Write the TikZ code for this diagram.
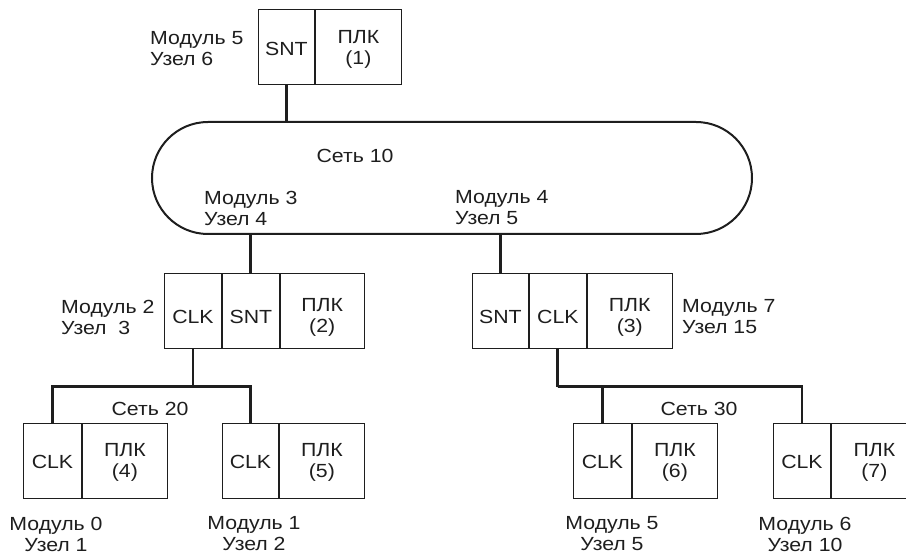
\documentclass[tikz,border=0pt]{standalone}
\usepackage{fontspec}
\setmainfont{Liberation Sans}[FakeStretch=1.12]
\usetikzlibrary{shapes.misc}
\definecolor{ink}{HTML}{1E1E1E}
\begin{document}
\begin{tikzpicture}[x=1pt,y=-1pt,
  every node/.style={font=\fontsize{19}{21}\selectfont, text=ink},
  cell/.style={draw=ink, line width=0.9pt, minimum height=75pt, inner sep=0pt, anchor=north west},
  narrow/.style={cell, minimum width=57pt},
  wide/.style={cell, minimum width=85pt},
  celltext/.style={align=center, inner sep=0pt},
  lbl/.style={align=left, inner sep=0pt, anchor=west},
  clbl/.style={align=center, inner sep=0pt},
  conn/.style={draw=ink, line width=2.8pt},
  net/.style={draw=ink, line width=2pt, rounded rectangle, minimum width=600pt, minimum height=112pt, inner sep=0pt}
]
\useasboundingbox (0,0) rectangle (906,556);
\begin{scope}
\clip (0,0) rectangle (906,556);
% top module
\node[narrow, minimum width=56pt] (asnt) at (258,9) {};
\node[cell, minimum width=86pt] (aplk) at (asnt.north east) {};
\node[celltext] (tasnt) at ([yshift=-2pt]asnt.center) {SNT};
\node[celltext] (taplk) at ([yshift=-2pt]aplk.center) {ПЛК\\(1)};
\node[lbl] (la) at (150,49) {Модуль 5\\Узел 6};

% network 10
\node[net] (n10) at (452,178) {};
\node[clbl] (tn10) at (355,156) {Сеть 10};
\node[lbl] (l3) at (204,208) {Модуль 3\\Узел 4};
\node[lbl] (l4) at (455,208) {Модуль 4\\Узел 5};

% module 2
\node[narrow] (bclk) at (164,273) {};
\node[narrow] (bsnt) at (bclk.north east) {};
\node[cell, minimum width=84pt] (bplk) at (bsnt.north east) {};
\node[celltext] (tbclk) at ([yshift=-6.5pt]bclk.center) {CLK};
\node[celltext] (tbsnt) at ([yshift=-6.5pt]bsnt.center) {SNT};
\node[celltext] (tbplk) at ([yshift=-6.5pt]bplk.center) {ПЛК\\(2)};
\node[lbl] (lb) at (61,317) {Модуль 2\\Узел\ \ 3};

% module 7
\node[narrow, minimum width=56pt] (csnt) at (472,273) {};
\node[narrow] (cclk) at (csnt.north east) {};
\node[wide] (cplk) at (cclk.north east) {};
\node[celltext] (tcsnt) at ([yshift=-6.5pt]csnt.center) {SNT};
\node[celltext] (tcclk) at ([yshift=-6.5pt]cclk.center) {CLK};
\node[celltext] (tcplk) at ([yshift=-6.5pt]cplk.center) {ПЛК\\(3)};
\node[lbl] (lc) at (682,317) {Модуль 7\\Узел 15};

% bottom modules
\node[narrow, minimum width=58pt] (dclk) at (23,423) {};
\node[wide] (dplk) at (dclk.north east) {};
\node[celltext] (tdclk) at ([yshift=-1.5pt]dclk.center) {CLK};
\node[celltext] (tdplk) at ([yshift=-1.5pt]dplk.center) {ПЛК\\(4)};
\node[clbl] (ld) at (56,534) {Модуль 0\\Узел 1};

\node[narrow, minimum width=56pt] (eclk) at (222,423) {};
\node[wide] (eplk) at (eclk.north east) {};
\node[celltext] (teclk) at ([yshift=-1.5pt]eclk.center) {CLK};
\node[celltext] (teplk) at ([yshift=-1.5pt]eplk.center) {ПЛК\\(5)};
\node[clbl] (le) at (254,534) {Модуль 1\\Узел 2};

\node[narrow, minimum width=58pt] (fclk) at (573,423) {};
\node[wide] (fplk) at (fclk.north east) {};
\node[celltext] (tfclk) at ([yshift=-1.5pt]fclk.center) {CLK};
\node[celltext] (tfplk) at ([yshift=-1.5pt]fplk.center) {ПЛК\\(6)};
\node[clbl] (lf) at (612,534) {Модуль 5\\Узел 5};

\node[narrow, minimum width=57pt] (gclk) at (773,423) {};
\node[cell, minimum width=86pt] (gplk) at (gclk.north east) {};
\node[celltext] (tgclk) at ([yshift=-1.5pt]gclk.center) {CLK};
\node[celltext] (tgplk) at ([yshift=-1.5pt]gplk.center) {ПЛК\\(7)};
\node[clbl] (lg) at (805,534) {Модуль 6\\Узел 10};

\node[clbl] (tn20) at (150,409) {Сеть 20};
\node[clbl] (tn30) at (699,409) {Сеть 30};

% connectors
\draw[conn] (asnt.south) -- (asnt.south |- n10.north);
\draw[conn] (bsnt.north |- n10.south) -- (bsnt.north);
\draw[conn] (csnt.north |- n10.south) -- (csnt.north);
\coordinate (j20) at ([yshift=-38pt]bclk.south);
\coordinate (j30) at ([yshift=-38pt]cclk.south);
\draw[conn] (bclk.south) -- (j20);
\draw[conn, line join=miter] (dclk.north) |- (j20) -| (eclk.north);
\draw[conn] (cclk.south) -- (j30);
\draw[conn, line join=miter] (fclk.north) |- (j30) -| (gclk.north);
\end{scope}
\end{tikzpicture}
\end{document}
